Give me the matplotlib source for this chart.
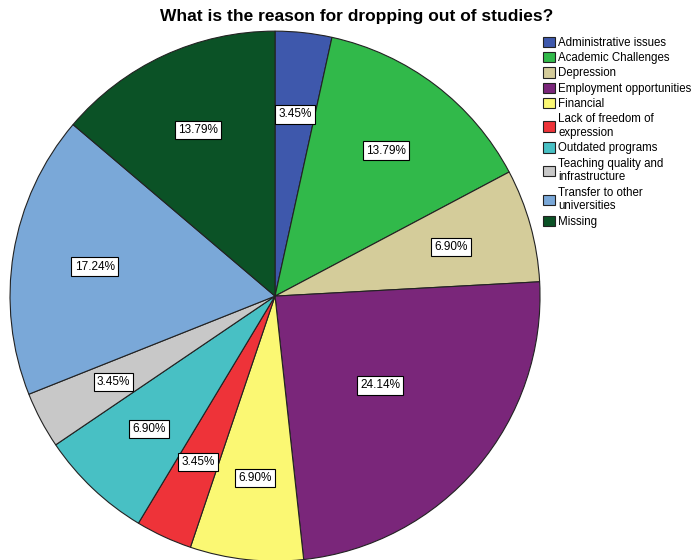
import matplotlib
matplotlib.use("Agg")
import matplotlib.pyplot as plt
from matplotlib.patches import Patch

plt.rcParams["font.family"] = ["Liberation Sans", "DejaVu Sans"]

# counts out of 29 respondents
labels = ["Administrative issues", "Academic Challenges", "Depression",
          "Employment opportunities", "Financial", "Lack of freedom of\nexpression",
          "Outdated programs", "Teaching quality and\ninfrastructure",
          "Transfer to other\nuniversities", "Missing"]
counts = [1, 4, 2, 7, 2, 1, 2, 1, 5, 4]
colors = ["#3e58ac", "#31b94a", "#d4cc9a", "#7a267a", "#fbf873",
          "#ee3339", "#48c0c4", "#c8c8c8", "#7aa8d8", "#0b5226"]

fig = plt.figure(figsize=(6.96, 5.6), dpi=100)
ax = fig.add_axes([0.0144, -0.002, 0.7615, 0.9464])

wedges, texts, autotexts = ax.pie(
    counts, colors=colors, startangle=90, counterclock=False,
    autopct="%.2f%%", pctdistance=0.69,
    wedgeprops=dict(edgecolor="#222222", linewidth=0.8),
    textprops=dict(fontsize=8.5))
for t in autotexts:
    t.set_bbox(dict(facecolor="white", edgecolor="black", linewidth=0.8, pad=2.3))
# SPSS put the biggest slice's label closer in
x, y = autotexts[3].get_position()
autotexts[3].set_position((x * 0.52 / 0.69, y * 0.52 / 0.69))

ax.set_xlim(-1.0, 1.0)
ax.set_ylim(-1.0, 1.0)
ax.set_aspect("equal")

handles = [Patch(facecolor=c, edgecolor="#222222", linewidth=0.8) for c in colors]
fig.legend(handles, labels, loc="upper left", bbox_to_anchor=(0.774, 0.943),
           frameon=False, fontsize=8.3, handlelength=1.0, handleheight=1.0,
           handletextpad=0.3, labelspacing=0.28, borderaxespad=0)

fig.text(0.513, 0.97, "What is the reason for dropping out of studies?",
         ha="center", va="center", fontsize=12.5, fontweight="bold")

fig.savefig("out.png", dpi=100)
